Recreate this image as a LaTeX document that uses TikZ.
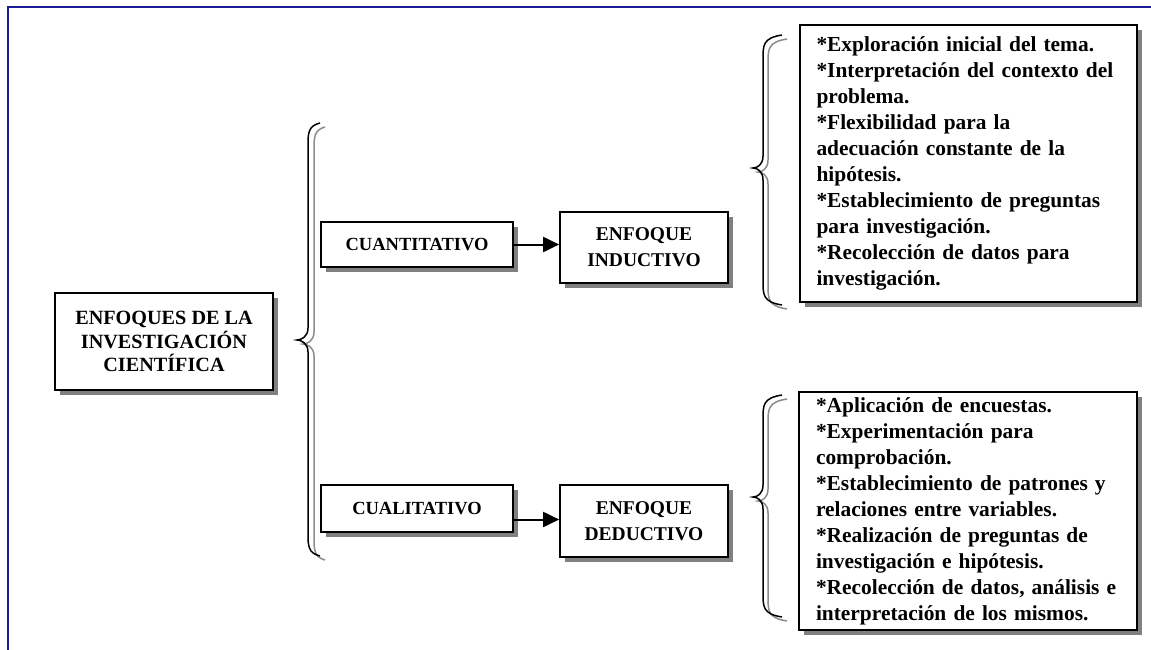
\documentclass[tikz,border=0pt]{standalone}
\usepackage{fontspec}
\setmainfont{Liberation Serif}
\usetikzlibrary{arrows.meta,shadows}
\definecolor{frameblue}{RGB}{28,28,150}
\definecolor{shadowgray}{RGB}{128,128,128}
\definecolor{bracegray}{RGB}{140,140,140}

% curly brace in the word-processor style: vertical stem at x=#1, tip at x=#2,
% ends curling right to x=#3; top y=#4, tip y=#5, bottom y=#6, draw options #7
\newcommand{\curlbrace}[7]{%
  \draw[#7] (#3,#4) .. controls (#1,#4+3) and (#1,#4+10) .. (#1,#4+24)
    -- (#1,#5-12) .. controls (#1,#5-3) and (#2+4,#5) .. (#2,#5)
    .. controls (#2+4,#5) and (#1,#5+3) .. (#1,#5+12)
    -- (#1,#6-24) .. controls (#1,#6-10) and (#1,#6-3) .. (#3,#6);}

\begin{document}
\begin{tikzpicture}[x=1pt,y=-1pt,
  box/.style={draw=black,line width=1.7pt,fill=white,inner sep=0pt,
    align=center,font=\bfseries,
    drop shadow={shadow xshift=5pt,shadow yshift=-5pt,fill=shadowgray,opacity=1}},
  listbox/.style={box,align=left,text width=304pt,font=\fontsize{21.4}{26}\selectfont\bfseries},
  flow/.style={line width=2pt,-{Triangle[length=16pt,width=15pt]}},
  frame/.style={frameblue,line width=2pt}]
\useasboundingbox (0,0) rectangle (1151,650);
\fill[white] (0,0) rectangle (1151,650);

% frame along the top and left edges
\draw[frame] (8,650) -- (8,7) -- (1151,7);

% boxes
\node[box,minimum width=218pt,minimum height=97pt,
  font=\fontsize{20.2}{23.5}\selectfont\bfseries] (root) at (164,341.5)
  {ENFOQUES DE LA\\INVESTIGACIÓN\\CIENTÍFICA};
\node[box,minimum width=192pt,minimum height=45pt,
  font=\fontsize{18.5}{22}\selectfont\bfseries] (cuant) at (417,244.5) {CUANTITATIVO};
\node[box,minimum width=168pt,minimum height=71pt,
  font=\fontsize{19.5}{26}\selectfont\bfseries] (induc) at (644,247.5) {ENFOQUE\\INDUCTIVO};
\node[box,minimum width=192pt,minimum height=47pt,
  font=\fontsize{18.5}{22}\selectfont\bfseries] (cual) at (417,508.5) {CUALITATIVO};
\node[box,minimum width=168pt,minimum height=72pt,
  font=\fontsize{19.5}{26}\selectfont\bfseries] (deduc) at (644,521) {ENFOQUE\\DEDUCTIVO};

\node[listbox,minimum width=337pt,minimum height=277pt] (indlist) at (968.5,163.5)
  {{*}Exploración inicial del tema.\\
   {*}Interpretación del contexto del\\
   problema.\\
   {*}Flexibilidad para la\\
   adecuación constante de la\\
   hipótesis.\\
   {*}Establecimiento de preguntas\\
   para investigación.\\
   {*}Recolección de datos para\\
   investigación.};
\node[listbox,minimum width=338pt,minimum height=238pt] (dedlist) at (968,511)
  {{*}Aplicación de encuestas.\\
   {*}Experimentación para\\
   comprobación.\\
   {*}Establecimiento de patrones y\\
   relaciones entre variables.\\
   {*}Realización de preguntas de\\
   investigación e hipótesis.\\
   {*}Recolección de datos, análisis e\\
   interpretación de los mismos.};

% arrows
\draw[flow] (cuant.east) -- (cuant.east -| induc.west);
\draw[flow] ([yshift=-11pt]cual.east) -- ([yshift=-11pt]cual.east -| deduc.west);

% braces, each with a grey shadow copy
\curlbrace{314}{303}{325}{127}{344}{560}{bracegray,line width=1.5pt}
\curlbrace{308}{297}{320}{123}{340}{556}{black,line width=1.5pt}

\curlbrace{768}{758}{787}{39}{172}{309}{bracegray,line width=1.5pt}
\curlbrace{763}{753}{782}{35}{168}{305}{black,line width=1.5pt}

\curlbrace{768}{758}{787}{399}{501}{621}{bracegray,line width=1.5pt}
\curlbrace{763}{753}{782}{395}{497}{617}{black,line width=1.5pt}
\end{tikzpicture}
\end{document}
